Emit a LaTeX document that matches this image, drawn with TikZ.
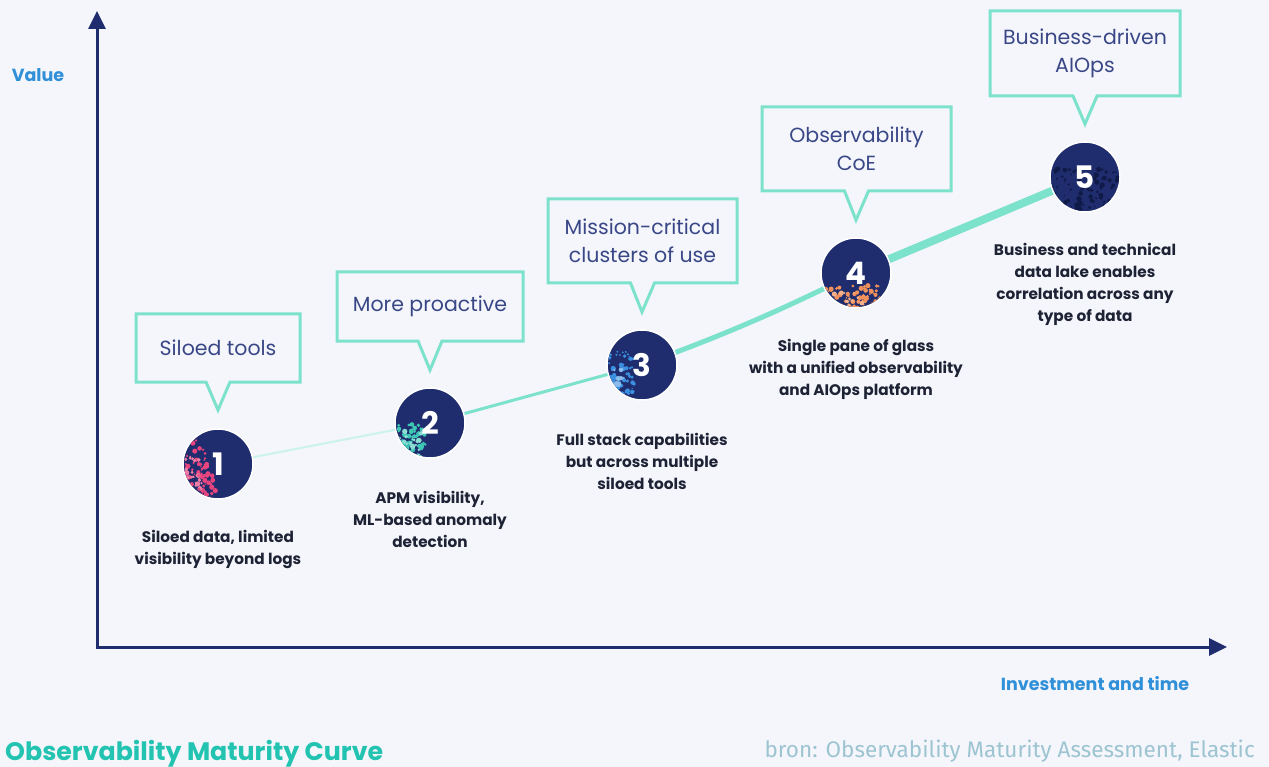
\documentclass[tikz,border=0pt]{standalone}
\usepackage{fontspec}
\setmainfont{Poppins}
\newfontfamily\srcfont{Fira Sans}
\usetikzlibrary{arrows.meta,calc}
\definecolor{bg}{HTML}{F4F6FB}
\definecolor{navy}{HTML}{1F2D6E}
\definecolor{tealline}{HTML}{7DE2CB}
\definecolor{boxtxt}{HTML}{3A4787}
\definecolor{desc}{HTML}{1E2235}
\definecolor{axlbl}{HTML}{2F8FD8}
\definecolor{ttl}{HTML}{22C3B0}
\definecolor{src}{HTML}{9DC4D1}
\definecolor{pinkA}{HTML}{E8457E}
\definecolor{tealA}{HTML}{3EC7B5}
\definecolor{blueA}{HTML}{3B8FE0}
\definecolor{orangeA}{HTML}{F0905A}
\definecolor{darkA}{HTML}{101A48}
\newcommand\myspeck[7]{%
  \begin{scope}
    \clip (#1) circle [radius=34pt];
    \foreach \k in {1,...,#7}{%
      \fill[#2] ($(#1)+({#3+#4*rnd},{#5+#6*rnd})$) circle [radius={(0.7+2.0*rnd)*1pt}];
    }
  \end{scope}}
\begin{document}
\begin{tikzpicture}[x=1pt,y=-1pt,
  axis/.style={draw=navy,line width=3pt,{Triangle[length=18pt,width=17pt]}-{Triangle[length=18pt,width=17pt]}},
  stage/.style={circle,fill=navy,draw=white,line width=1.5pt,minimum size=70pt,inner sep=0pt},
  num/.style={text=white,font=\bfseries\fontsize{31}{31}\selectfont,inner sep=0pt},
  cbox/.style={rectangle,inner sep=0pt,outer sep=0pt,align=center,text=boxtxt,font=\fontsize{20.5}{28}\selectfont},
  cline/.style={draw=tealline,line width=3pt,line join=miter},
  desc/.style={align=center,text=desc,font=\bfseries\fontsize{15.3}{22}\selectfont,inner sep=0pt},
  axlabel/.style={text=axlbl,font=\bfseries\fontsize{17.5}{20}\selectfont,inner sep=0pt},
  seg/.style={draw=tealline,line cap=round}
]
\useasboundingbox[fill=bg] (0,0) rectangle (1269,767);
\pgfmathsetseed{7}
% axes
\coordinate (ytop) at (97,11);
\coordinate (orig) at (97,647);
\coordinate (xend) at (1227,647);
\draw[axis] (ytop) -- (orig) -- (xend);
\node[axlabel] (vlab) at (38,75) {Value};
\node[axlabel] (ilab) at (1095,684) {Investment and time};
% stage positions
\coordinate (p1) at (218,464);
\coordinate (p2) at (430,423);
\coordinate (p3) at (642,365);
\coordinate (p4) at (856,273);
\coordinate (p5) at (1085,177);
% curve
\draw[seg,draw=tealline!40,line width=2pt] (p1) -- (p2);
\draw[seg,line width=3pt] (p2) -- (p3);
\draw[seg,line width=5pt] (p3) to[bend right=3] (p4);
\draw[seg,line width=8pt] (p4) -- (p5);
% circles
\node[stage] (c1) at (p1) {};
\myspeck{c1}{pinkA}{-36}{26}{-24}{58}{70}
\myspeck{c1}{pinkA!70!white}{-36}{20}{-10}{44}{30}
\myspeck{c1}{pinkA}{-20}{18}{10}{26}{20}
\node[num] (n1) at (c1) {1};
\node[stage] (c2) at (p2) {};
\myspeck{c2}{tealA}{-36}{34}{0}{36}{70}
\myspeck{c2}{tealA!60!white}{-32}{24}{8}{28}{25}
\node[num] (n2) at (c2) {2};
\node[stage] (c3) at (p3) {};
\myspeck{c3}{blueA}{-36}{28}{-14}{50}{70}
\myspeck{c3}{blueA!60!white}{-36}{18}{0}{32}{20}
\node[num] (n3) at (c3) {3};
\node[stage] (c4) at (p4) {};
\myspeck{c4}{orangeA}{-34}{60}{12}{24}{70}
\myspeck{c4}{orangeA!70!white}{-30}{40}{18}{18}{20}
\node[num] (n4) at (c4) {4};
\node[stage] (c5) at (p5) {};
\myspeck{c5}{darkA}{-36}{72}{-8}{44}{110}
\node[num] (n5) at (c5) {5};
% callouts
\node[cbox,minimum width=164pt,minimum height=68pt] (b1) at (218,348) {Siloed tools};
\coordinate (t1) at (218,410);
\draw[cline] ($(b1.south)+(-12,0)$) -- (b1.south west) -- (b1.north west) -- (b1.north east) -- (b1.south east) -- ($(b1.south)+(12,0)$) -- (t1) -- cycle;
\node[cbox,minimum width=186pt,minimum height=69pt] (b2) at (430,306.5) {More proactive};
\coordinate (t2) at (430,370);
\draw[cline] ($(b2.south)+(-12,0)$) -- (b2.south west) -- (b2.north west) -- (b2.north east) -- (b2.south east) -- ($(b2.south)+(12,0)$) -- (t2) -- cycle;
\node[cbox,minimum width=189pt,minimum height=84pt] (b3) at (642.5,241) {Mission-critical\\clusters of use};
\coordinate (t3) at (642,312);
\draw[cline] ($(b3.south)+(-12,0)$) -- (b3.south west) -- (b3.north west) -- (b3.north east) -- (b3.south east) -- ($(b3.south)+(12,0)$) -- (t3) -- cycle;
\node[cbox,minimum width=189pt,minimum height=84pt] (b4) at (856.5,149) {Observability\\CoE};
\coordinate (t4) at (856,220);
\draw[cline] ($(b4.south)+(-12,0)$) -- (b4.south west) -- (b4.north west) -- (b4.north east) -- (b4.south east) -- ($(b4.south)+(12,0)$) -- (t4) -- cycle;
\node[cbox,minimum width=190pt,minimum height=85pt] (b5) at (1085,53.5) {Business-driven\\AIOps};
\coordinate (t5) at (1085,124);
\draw[cline] ($(b5.south)+(-12,0)$) -- (b5.south west) -- (b5.north west) -- (b5.north east) -- (b5.south east) -- ($(b5.south)+(12,0)$) -- (t5) -- cycle;
% descriptions
\node[desc] (d1) at (218,549) {Siloed data, limited\\visibility beyond logs};
\node[desc] (d2) at (430,519) {APM visibility,\\ML-based anomaly\\detection};
\node[desc] (d3) at (642,461) {Full stack capabilities\\but across multiple\\siloed tools};
\node[desc] (d4) at (856,369) {Single pane of glass\\with a unified observability\\and AIOps platform};
\node[desc] (d5) at (1085,284) {Business and technical\\data lake enables\\correlation across any\\type of data};
% footer
\node[anchor=base west,inner sep=0pt,text=ttl,font=\fontsize{25.3}{28}\selectfont\bfseries] (title) at (5,760) {Observability Maturity Curve};
\node[anchor=base east,inner sep=0pt,text=src,font=\srcfont\fontsize{22.5}{24}\selectfont] (source) at (1255,757) {bron: Observability Maturity Assessment, Elastic};
\end{tikzpicture}
\end{document}
